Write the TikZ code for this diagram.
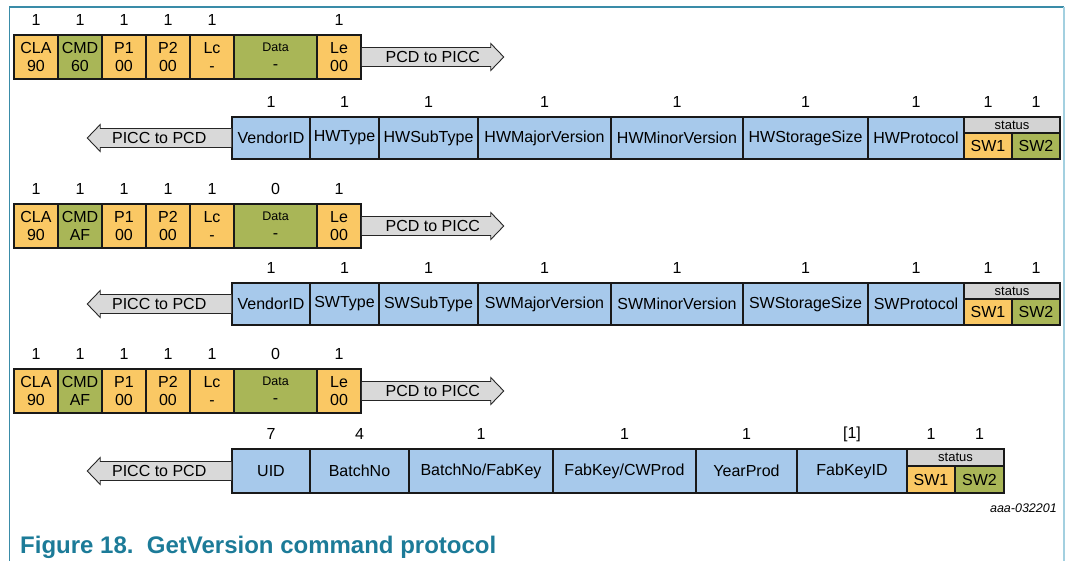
\documentclass[tikz,border=0pt]{standalone}
\usepackage{fontspec}
\setmainfont{Liberation Sans}
\usetikzlibrary{calc}
\definecolor{orng}{HTML}{FAC864}
\definecolor{olv}{HTML}{A9B657}
\definecolor{lblue}{HTML}{A7C9EB}
\definecolor{agray}{HTML}{D9D9D9}
\definecolor{hgray}{HTML}{D3D3D3}
\definecolor{frameteal}{HTML}{3A8CA8}
\definecolor{frameblue}{HTML}{A3D0E0}
\definecolor{capc}{HTML}{1C7B98}
\newcommand\cell[7]{\node[box,#2,minimum width={(#4)-(#3)},minimum height={(#6)-(#5)}] (#1) at ({((#3)+(#4))/2},{-((#5)+(#6))/2}) {#7};}
\newcommand\numlbl[3]{\node[num] (#1) at ($(#2.north)+(0,14)$) {#3};}
\newcommand\rarrow[3]{%
  \draw[arr] ($(#2.east)+(0,9.5)$) -- ++(129,0) -- ++(0,4) -- ++(13,-13.5) -- ++(-13,-13.5) -- ++(0,4) -- ++(-129,0);
  \node[lbl] (#1) at ($(#2.east)+(71,0)$) {#3};}
\newcommand\larrow[3]{%
  \draw[arr] ($(#2.west)+(0,9.5)$) -- ++(-131,0) -- ++(0,4) -- ++(-13,-13.5) -- ++(13,-13.5) -- ++(0,4) -- ++(131,0);
  \node[lbl] (#1) at ($(#2.west)+(-72,0)$) {#3};}
\newcommand\cmdrow[4]{% suffix, top y, CMD value, data count
  \pgfmathsetmacro\rowbot{#2+44}
  \cell{cla#1}{obox}{14}{58}{#2}{\rowbot}{CLA\\90}
  \cell{cmd#1}{gbox}{58}{102}{#2}{\rowbot}{CMD\\#3}
  \cell{pa#1}{obox}{102}{146}{#2}{\rowbot}{P1\\00}
  \cell{pb#1}{obox}{146}{190}{#2}{\rowbot}{P2\\00}
  \cell{lc#1}{obox}{190}{234}{#2}{\rowbot}{Lc\\-}
  \cell{dat#1}{gbox}{234}{317}{#2}{\rowbot}{}
  \cell{le#1}{obox}{317}{361}{#2}{\rowbot}{Le\\00}
  \node[small] (datl#1) at ($(dat#1.center)+(0,10)$) {Data};
  \node[lbl] (datv#1) at ($(dat#1.center)+(0,-10)$) {-};
  \numlbl{ncla#1}{cla#1}{1}
  \numlbl{ncmd#1}{cmd#1}{1}
  \numlbl{npa#1}{pa#1}{1}
  \numlbl{npb#1}{pb#1}{1}
  \numlbl{nlc#1}{lc#1}{1}
  \numlbl{ndat#1}{dat#1}{#4}
  \numlbl{nle#1}{le#1}{1}
  \rarrow{ar#1}{le#1}{PCD to PICC}}
\newcommand\resprow[3]{% suffix, top y, prefix
  \pgfmathsetmacro\rowbot{#2+42}
  \pgfmathsetmacro\rowmid{#2+16}
  \cell{ven#1}{bbox}{232}{310}{#2}{\rowbot}{VendorID}
  \cell{typ#1}{bbox}{310}{379}{#2}{\rowbot}{#3Type}
  \cell{sub#1}{bbox}{379}{478}{#2}{\rowbot}{#3SubType}
  \cell{maj#1}{bbox}{478}{611}{#2}{\rowbot}{#3MajorVersion}
  \cell{min#1}{bbox}{611}{743}{#2}{\rowbot}{#3MinorVersion}
  \cell{sto#1}{bbox}{743}{868}{#2}{\rowbot}{#3StorageSize}
  \cell{pro#1}{bbox}{868}{964}{#2}{\rowbot}{#3Protocol}
  \cell{st#1}{hbox}{964}{1060}{#2}{\rowmid}{status}
  \cell{swa#1}{obox}{964}{1012}{\rowmid}{\rowbot}{SW1}
  \cell{swb#1}{gbox}{1012}{1060}{\rowmid}{\rowbot}{SW2}
  \numlbl{nven#1}{ven#1}{1}
  \numlbl{ntyp#1}{typ#1}{1}
  \numlbl{nsub#1}{sub#1}{1}
  \numlbl{nmaj#1}{maj#1}{1}
  \numlbl{nmin#1}{min#1}{1}
  \numlbl{nsto#1}{sto#1}{1}
  \numlbl{npro#1}{pro#1}{1}
  \node[num] (nswa#1) at ($(swa#1.north)+(0,30)$) {1};
  \node[num] (nswb#1) at ($(swb#1.north)+(0,30)$) {1};
  \larrow{al#1}{ven#1}{PICC to PCD}}
\begin{document}
\begin{tikzpicture}[x=1pt,y=1pt,
  box/.style={draw=black!90, line width=1.5pt, inner sep=0pt, align=center,
    font=\fontsize{16}{18}\selectfont},
  obox/.style={fill=orng},
  gbox/.style={fill=olv},
  bbox/.style={fill=lblue},
  hbox/.style={fill=hgray, font=\fontsize{13}{15}\selectfont},
  num/.style={inner sep=0pt, font=\fontsize{16}{18}\selectfont},
  lbl/.style={inner sep=0pt, font=\fontsize{16}{18}\selectfont},
  small/.style={inner sep=0pt, font=\fontsize{12.5}{14}\selectfont},
  arr/.style={draw=black!85, line width=0.9pt, fill=agray, line join=miter}]
\useasboundingbox (0,0) rectangle (1068,-561);
% frame
\draw[frameteal, line width=1.3pt] (9.5,-561) -- (9.5,-7) -- (1064,-7);
\draw[frameblue, line width=1.3pt] (1064,-7) -- (1064,-561);
% rows
\cmdrow{a}{35}{60}{}
\resprow{b}{117}{HW}
\cmdrow{c}{204}{AF}{0}
\resprow{d}{283}{SW}
\cmdrow{e}{369}{AF}{0}
% last response row
\cell{uid}{bbox}{232}{310}{449}{493}{UID}
\cell{bno}{bbox}{310}{409}{449}{493}{BatchNo}
\cell{bfk}{bbox}{409}{553}{449}{493}{BatchNo/FabKey}
\cell{fcw}{bbox}{553}{696}{449}{493}{FabKey/CWProd}
\cell{yp}{bbox}{696}{797}{449}{493}{YearProd}
\cell{fki}{bbox}{797}{907}{449}{493}{FabKeyID}
\cell{stf}{hbox}{907}{1004}{449}{466}{status}
\cell{swaf}{obox}{907}{955}{466}{493}{SW1}
\cell{swbf}{gbox}{955}{1004}{466}{493}{SW2}
\numlbl{nuid}{uid}{7}
\numlbl{nbno}{bno}{4}
\numlbl{nbfk}{bfk}{1}
\numlbl{nfcw}{fcw}{1}
\numlbl{nyp}{yp}{1}
\numlbl{nfki}{fki}{[1]}
\node[num] (nswaf) at ($(swaf.north)+(0,31)$) {1};
\node[num] (nswbf) at ($(swbf.north)+(0,31)$) {1};
\larrow{alf}{uid}{PICC to PCD}
% reference and caption
\node[anchor=base east, inner sep=0pt, font=\fontsize{12.5}{15}\selectfont\itshape] (ref) at (1057,-512) {aaa-032201};
\node[anchor=base west, inner sep=0pt, text=capc, font=\fontsize{24}{28}\selectfont\bfseries] (cap) at (20,-553) {Figure 18.\ \ GetVersion command protocol};
\end{tikzpicture}
\end{document}
